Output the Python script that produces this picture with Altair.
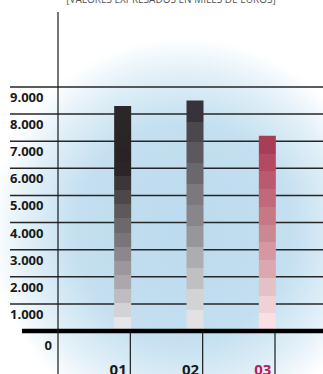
import altair as alt
import pandas as pd

# ---- data ----
categories = ["01", "02", "03"]
values = [8300, 8500, 7200]
tick_values = [1000, 2000, 3000, 4000, 5000, 6000, 7000, 8000, 9000]
tick_labels = ["1.000", "2.000", "3.000", "4.000", "5.000", "6.000", "7.000", "8.000", "9.000"]
title_text = "[VALORES EXPRESADOS EN MILES DE EUROS]"

# stepped colour bands of each bar, bottom to top
band_colors = {
    "01": ["#e6e5e9", "#d3d2d6", "#bdbcc0", "#aaa8ac", "#9a989c", "#8a888c", "#78767a", "#6b696c",
           "#5c595a", "#4c4849", "#3b3738", "#2a2526", "#282324", "#292425", "#2a2526", "#2b2728"],
    "02": ["#e2e1e3", "#d3d2d5", "#c0bfc2", "#adacb0", "#98969b", "#88868b", "#7b797e", "#6a686d",
           "#5b595e", "#4a484d", "#36343a"],
    "03": ["#fbe0e3", "#f0d2d6", "#e3c1c5", "#dca8af", "#d598a1", "#cc8892", "#c67985", "#c1697a",
           "#bb5a6e", "#b44a62", "#a83d57"],
}
label_colors = {"01": "#1a1a1a", "02": "#1a1a1a", "03": "#b0235a"}

bars_df = pd.DataFrame({"cat": categories, "value": values})
ticks_df = pd.DataFrame({"value": tick_values, "label": tick_labels})
zero_df = pd.DataFrame({"value": [0], "label": ["0"]})
cats_df = pd.DataFrame({"cat": categories, "color": [label_colors[c] for c in categories]})

W, H = 323, 374
yscale = alt.Scale(domain=[0, 9000], range=[331, 87], nice=False, zero=True)
xscale = alt.Scale(domain=categories, range=[58, 275], paddingInner=0, paddingOuter=0)


def stepped(colors):
    n = len(colors)
    stops = []
    for i, c in enumerate(colors):
        stops.append(alt.GradientStop(offset=i / n, color=c))
        stops.append(alt.GradientStop(offset=(i + 1) / n, color=c))
    return alt.LinearGradient(gradient="linear", x1=0, x2=0, y1=1, y2=0, stops=stops)


# background radial glow
bg = alt.Chart(pd.DataFrame({"a": [0]})).mark_rect(
    fill=alt.RadialGradient(
        gradient="radial", x1=0.56, y1=0.62, r1=0, x2=0.56, y2=0.62, r2=0.52,
        stops=[
            alt.GradientStop(offset=0, color="#bcdbee"),
            alt.GradientStop(offset=0.55, color="#c3dff0"),
            alt.GradientStop(offset=0.82, color="#e2f0f8"),
            alt.GradientStop(offset=1, color="#ffffff"),
        ],
    )
).encode(x=alt.value(0), x2=alt.value(W), y=alt.value(0), y2=alt.value(H))

grid = alt.Chart(ticks_df).mark_rule(color="#262626", strokeWidth=1.5).encode(
    y=alt.Y("value:Q", scale=yscale, axis=None),
    x=alt.value(10), x2=alt.value(W),
)

tick_text = alt.Chart(ticks_df).mark_text(
    align="left", baseline="alphabetic", dy=15, font="Open Sans", fontWeight="bold",
    fontSize=13, color="#1a1a1a",
).encode(y=alt.Y("value:Q", scale=yscale, axis=None), x=alt.value(10), text="label:N")

zero_text = alt.Chart(zero_df).mark_text(
    align="right", baseline="alphabetic", dy=19, font="Open Sans", fontWeight="bold",
    fontSize=13, color="#1a1a1a",
).encode(y=alt.Y("value:Q", scale=yscale, axis=None), x=alt.value(52), text="label:N")

bar_layers = []
for c in categories:
    bar_layers.append(
        alt.Chart(bars_df).transform_filter(alt.datum.cat == c).mark_bar(
            width=17, xOffset=28.5, color=stepped(band_colors[c])
        ).encode(
            x=alt.X("cat:N", scale=xscale, axis=None),
            y=alt.Y("value:Q", scale=yscale, axis=None),
            y2=alt.datum(0),
        )
    )

baseline = alt.Chart(zero_df).mark_rule(color="#000000", strokeWidth=4.5).encode(
    y=alt.Y("value:Q", scale=yscale, axis=None), x=alt.value(22), x2=alt.value(W)
)

separators = alt.Chart(cats_df).mark_rule(color="#1a1a1a", strokeWidth=1.2).encode(
    x=alt.X("cat:N", scale=xscale, axis=None, bandPosition=1),
    y=alt.value(333), y2=alt.value(H),
)

axis_line = alt.Chart(cats_df).transform_filter(alt.datum.cat == "01").mark_rule(
    color="#1a1a1a", strokeWidth=1.2
).encode(
    x=alt.X("cat:N", scale=xscale, axis=None, bandPosition=0),
    y=alt.value(12), y2=alt.value(H),
)

cat_text = alt.Chart(cats_df).mark_text(
    baseline="alphabetic", dx=24, font="Open Sans", fontWeight="bold", fontSize=15
).encode(
    x=alt.X("cat:N", scale=xscale, axis=None),
    y=alt.value(375),
    text="cat:N",
    color=alt.Color("color:N", scale=None),
)

title = alt.Chart(pd.DataFrame({"t": [title_text]})).mark_text(
    baseline="alphabetic", font="Open Sans", fontSize=10, color="#555555"
).encode(x=alt.value(171), y=alt.value(3), text="t:N")

chart = alt.layer(
    bg, grid, tick_text, zero_text, *bar_layers, baseline, separators, axis_line, cat_text, title
).properties(
    width=W, height=H, padding=0, autosize=alt.AutoSizeParams(type="none")
).configure_view(stroke=None)

chart.save("out.html", embed_options={"renderer": "svg", "actions": False})
